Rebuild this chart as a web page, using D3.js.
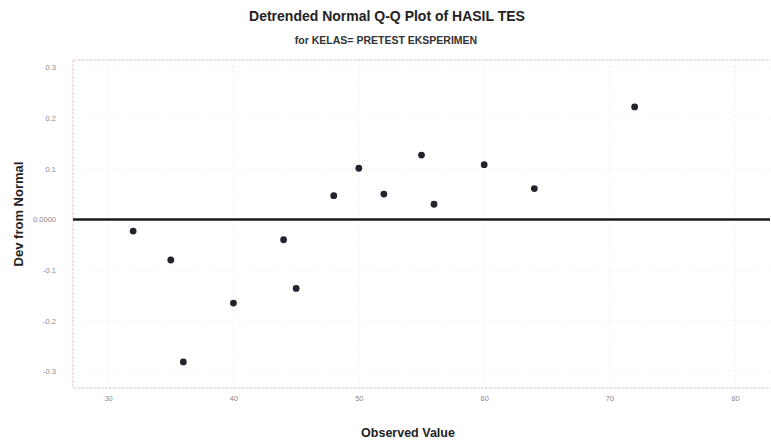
<!DOCTYPE html>
<html>
<head>
<meta charset="utf-8">
<script src="https://cdn.jsdelivr.net/npm/d3@7"></script>
<style>
  html, body { margin: 0; padding: 0; background: #ffffff; }
  svg { display: block; font-family: Arial, "Liberation Sans", sans-serif; }
</style>
</head>
<body>
<svg id="chart" width="771" height="441"></svg>
<script>
// ---- data ----
const observed = [32, 35, 36, 40, 44, 45, 48, 50, 52, 55, 56, 60, 64, 72];
const devFromNormal = [-0.023, -0.080, -0.281, -0.165, -0.040, -0.136, 0.047, 0.101, 0.050, 0.127, 0.030, 0.108, 0.061, 0.222];
const xTicks = [30, 40, 50, 60, 70, 80];
const xTickLabels = ["30", "40", "50", "60", "70", "80"];
const yTicks = [0.3, 0.2, 0.1, 0, -0.1, -0.2, -0.3];
const yTickLabels = ["0.3", "0.2", "0.1", "0.0000", "-0.1", "-0.2", "-0.3"];
const title = "Detrended Normal Q-Q Plot of HASIL TES";
const subtitle = "for KELAS= PRETEST EKSPERIMEN";
const xLabel = "Observed Value";
const yLabel = "Dev from Normal";

// ---- layout ----
const svg = d3.select("#chart");
const plot = { left: 73, right: 770, top: 60, bottom: 388 };

const x = d3.scaleLinear().domain([27.2, 82.8]).range([plot.left, plot.right]);
const y = d3.scaleLinear().domain([-0.3325, 0.3146]).range([plot.bottom, plot.top]);

// very faint gridlines
const grid = svg.append("g").attr("stroke", "#f7e4e6").attr("stroke-width", 0.8)
  .attr("stroke-dasharray", "2,3");
grid.selectAll("line.v").data(xTicks.filter(d => d < 82)).join("line")
  .attr("x1", d => x(d)).attr("x2", d => x(d))
  .attr("y1", plot.top).attr("y2", plot.bottom);
grid.selectAll("line.h").data(yTicks.filter(d => d !== 0)).join("line")
  .attr("x1", plot.left).attr("x2", plot.right)
  .attr("y1", d => y(d)).attr("y2", d => y(d))
  .attr("stroke", "#f9ecee");

// frame (top, left, bottom)
const frame = svg.append("g").attr("fill", "none").attr("stroke", "#e3c4c8")
  .attr("stroke-width", 1).attr("stroke-dasharray", "3,1");
frame.append("line").attr("x1", plot.left).attr("x2", plot.right).attr("y1", plot.top).attr("y2", plot.top);
frame.append("line").attr("x1", plot.left).attr("x2", plot.left).attr("y1", plot.top).attr("y2", plot.bottom);
frame.append("line").attr("x1", plot.left).attr("x2", plot.right).attr("y1", plot.bottom).attr("y2", plot.bottom);

// axes via d3
const xAxis = d3.axisBottom(x).tickValues(xTicks)
  .tickFormat((d, i) => xTickLabels[i]).tickSize(0).tickPadding(8);
const gx = svg.append("g").attr("transform", `translate(0,${plot.bottom})`).call(xAxis);
gx.select(".domain").remove();
gx.selectAll("text").attr("fill", "#8a8a8a").attr("font-size", 7.5);

const yAxis = d3.axisLeft(y).tickValues(yTicks)
  .tickFormat((d, i) => yTickLabels[i]).tickSize(0).tickPadding(17);
const gy = svg.append("g").attr("transform", `translate(${plot.left},0)`).call(yAxis);
gy.select(".domain").remove();
gy.selectAll("text").attr("fill", "#8a8a8a").attr("font-size", 7.5);

// zero reference line
svg.append("line")
  .attr("x1", plot.left).attr("x2", plot.right)
  .attr("y1", y(0)).attr("y2", y(0))
  .attr("stroke", "#1a1a1a").attr("stroke-width", 2.6);

// points
svg.append("g").selectAll("circle").data(observed).join("circle")
  .attr("cx", d => x(d))
  .attr("cy", (d, i) => y(devFromNormal[i]))
  .attr("r", 3.4)
  .attr("fill", "#23232e");

// titles
svg.append("text").attr("x", 387).attr("y", 21).attr("text-anchor", "middle")
  .attr("font-size", 14).attr("font-weight", "bold").attr("fill", "#222").text(title);
svg.append("text").attr("x", 386).attr("y", 44).attr("text-anchor", "middle")
  .attr("font-size", 10.5).attr("font-weight", "bold").attr("fill", "#333").text(subtitle);
svg.append("text").attr("x", 408).attr("y", 437).attr("text-anchor", "middle")
  .attr("font-size", 12.5).attr("font-weight", "bold").attr("fill", "#222").text(xLabel);
svg.append("text").attr("transform", "translate(23,214) rotate(-90)").attr("text-anchor", "middle")
  .attr("font-size", 13).attr("font-weight", "bold").attr("fill", "#222").text(yLabel);
</script>
</body>
</html>
